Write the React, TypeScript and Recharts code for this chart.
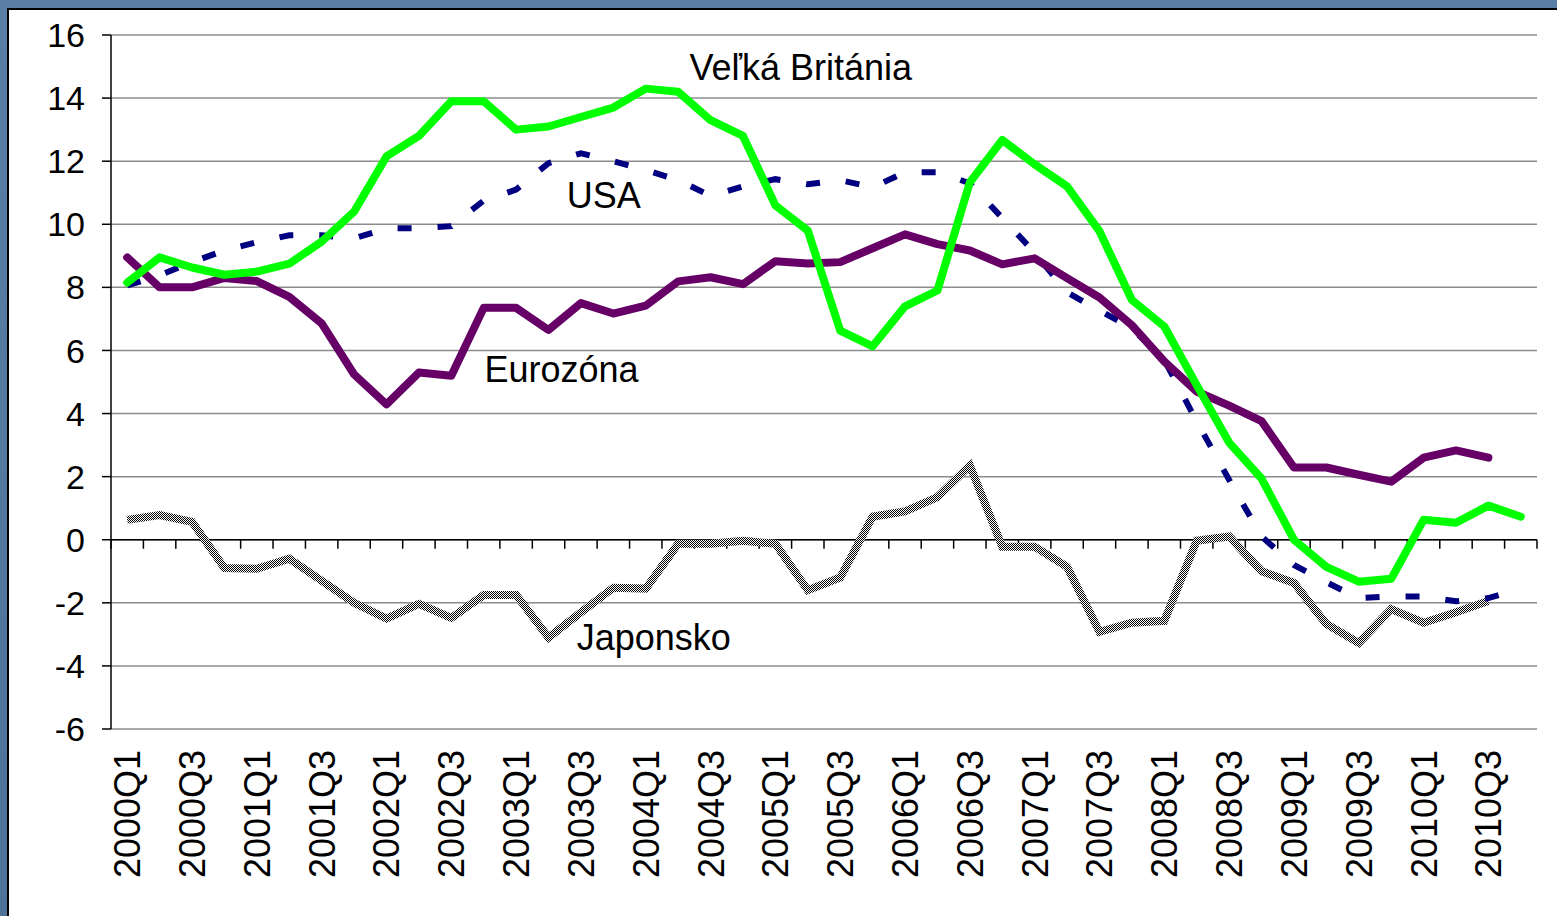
import React from 'react';
import { LineChart, Line, XAxis, YAxis, CartesianGrid, ReferenceLine, ReferenceDot } from 'recharts';

const quarters = [
  '2000Q1', '2000Q2', '2000Q3', '2000Q4',
  '2001Q1', '2001Q2', '2001Q3', '2001Q4',
  '2002Q1', '2002Q2', '2002Q3', '2002Q4',
  '2003Q1', '2003Q2', '2003Q3', '2003Q4',
  '2004Q1', '2004Q2', '2004Q3', '2004Q4',
  '2005Q1', '2005Q2', '2005Q3', '2005Q4',
  '2006Q1', '2006Q2', '2006Q3', '2006Q4',
  '2007Q1', '2007Q2', '2007Q3', '2007Q4',
  '2008Q1', '2008Q2', '2008Q3', '2008Q4',
  '2009Q1', '2009Q2', '2009Q3', '2009Q4',
  '2010Q1', '2010Q2', '2010Q3', '2010Q4',
];

const velkaBritania = [
  8.15, 8.95, 8.63, 8.4, 8.5, 8.75, 9.45, 10.4,
  12.15, 12.8, 13.9, 13.9, 13.0, 13.1, 13.4, 13.7,
  14.3, 14.2, 13.3, 12.8, 10.6, 9.8, 6.63, 6.13,
  7.4, 7.9, 11.33, 12.67, 11.9, 11.2, 9.78, 7.6,
  6.76, 4.9, 3.08, 1.94, 0.0, -0.86, -1.33, -1.24,
  0.63, 0.54, 1.08, 0.73,
];

const usa = [
  8.06, 8.38, 8.8, 9.17, 9.43, 9.65, 9.65, 9.55,
  9.87, 9.87, 9.94, 10.75, 11.1, 11.94, 12.25, 12.0,
  11.72, 11.4, 10.9, 11.2, 11.43, 11.27, 11.4, 11.17,
  11.65, 11.65, 11.3, 10.2, 9.1, 7.84, 7.27, 6.7,
  5.7, 3.75, 1.9, 0.1, -0.8, -1.35, -1.85, -1.8,
  -1.8, -1.95, -1.85, -1.55,
];

const eurozona = [
  8.95, 8.0, 8.0, 8.3, 8.2, 7.7, 6.86, 5.24,
  4.29, 5.3, 5.2, 7.35, 7.35, 6.65, 7.5, 7.17,
  7.42, 8.19, 8.32, 8.1, 8.83, 8.76, 8.8, 9.24,
  9.68, 9.37, 9.17, 8.73, 8.92, 8.29, 7.68, 6.8,
  5.65, 4.7, 4.25, 3.76, 2.29, 2.29, 2.06, 1.84,
  2.6, 2.83, 2.6, null,
];

const japonsko = [
  0.63, 0.78, 0.57, -0.9, -0.92, -0.6, -1.3, -2.0,
  -2.5, -2.03, -2.48, -1.75, -1.75, -3.1, -2.3, -1.52,
  -1.55, -0.13, -0.13, -0.03, -0.13, -1.6, -1.2, 0.73,
  0.9, 1.35, 2.35, -0.22, -0.22, -0.86, -2.92, -2.63,
  -2.57, -0.03, 0.1, -1.0, -1.37, -2.67, -3.27, -2.2,
  -2.63, -2.3, -1.94, null,
];

const yTicks = [-6, -4, -2, 0, 2, 4, 6, 8, 10, 12, 14, 16];

const annotationTexts = ['Veľká Británia', 'USA', 'Eurozóna', 'Japonsko'];
const annotationX = ['2005Q2', '2003Q4', '2003Q2', '2004Q1'];
const annotationY = [14.58, 10.52, 5.0, -3.5];

const data = quarters.map((q, i) => ({
  q,
  uk: velkaBritania[i],
  us: usa[i],
  ez: eurozona[i],
  jp: japonsko[i],
}));

const FONT = '"Liberation Sans", Arial, Helvetica, sans-serif';
const annotationDx = [-7, -9.5, 13, 8];

const XTick = (props: any) => {
  const { x, y, payload, index } = props;
  if (index % 2 !== 0) return null;
  return (
    <text
      x={x}
      y={y}
      transform={`rotate(-90, ${x}, ${y})`}
      textAnchor="end"
      dy="0.36em"
      fontSize={36}
      fontFamily={FONT}
      fill="#000"
    >
      {payload.value}
    </text>
  );
};

const AnnoLabel = (props: any) => {
  const { viewBox, text, dx } = props;
  if (!viewBox) return null;
  const cx = viewBox.x + (viewBox.width || 0) / 2;
  const cy = viewBox.y + (viewBox.height || 0) / 2;
  return (
    <text x={cx + dx} y={cy} textAnchor="middle" fontSize={36} fontFamily={FONT} fill="#000">
      {text}
    </text>
  );
};

const ZeroAxis = (props: any) => {
  const { x1, y1, x2, y2 } = props;
  const n = quarters.length;
  const step = (x2 - x1) / n;
  const marks = [];
  for (let k = 0; k <= n; k++) {
    const tx = x1 + k * step;
    marks.push(<line key={k} x1={tx} y1={y1} x2={tx} y2={y1 + 9} stroke="#000" strokeWidth={1.5} />);
  }
  return (
    <g>
      <line x1={x1} y1={y1} x2={x2} y2={y2} stroke="#000" strokeWidth={1.5} />
      {marks}
    </g>
  );
};

export default function App() {
  return (
    <div
      style={{
        position: 'absolute',
        left: 0,
        top: 0,
        width: 1557,
        height: 916,
        overflow: 'hidden',
        background: 'linear-gradient(180deg, #5a7ea6 0%, #4f7299 100%)',
      }}
    >
      <div
        style={{
          position: 'absolute',
          left: 7,
          top: 8,
          width: 1550,
          height: 908,
          background: '#fff',
          borderLeft: '2px solid #000',
          borderTop: '2px solid #000',
          boxSizing: 'border-box',
        }}
      />
      <div style={{ position: 'absolute', left: 0, top: 0 }}>
        <LineChart width={1557} height={916} data={data} margin={{ top: 35, right: 20, left: 0, bottom: 0 }}>
          <defs>
            <pattern id="jpHatch" width="2" height="2" patternUnits="userSpaceOnUse">
              <rect width="2" height="2" fill="#ffffff" />
              <rect x="0" y="0" width="1" height="1" fill="#000000" />
              <rect x="1" y="1" width="1" height="1" fill="#000000" />
            </pattern>
          </defs>
          <CartesianGrid vertical={false} stroke="#8c8c8c" strokeWidth={1.5} />
          <XAxis
            dataKey="q"
            scale="band"
            interval={0}
            height={187}
            axisLine={false}
            tickLine={false}
            tickSize={0}
            tickMargin={21}
            tick={<XTick />}
          />
          <YAxis
            width={111}
            domain={[-6, 16]}
            ticks={yTicks}
            interval={0}
            axisLine={{ stroke: '#000', strokeWidth: 1.5 }}
            tickLine={{ stroke: '#000', strokeWidth: 1.5 }}
            tickSize={9}
            tickMargin={17}
            tick={{ fontSize: 34, fill: '#000', fontFamily: FONT }}
          />
          <ReferenceLine y={0} shape={<ZeroAxis />} />
          <Line
            type="linear"
            dataKey="jp"
            stroke="url(#jpHatch)"
            strokeWidth={8}
            dot={false}
            activeDot={false}
            strokeLinejoin="miter"
            isAnimationActive={false}
          />
          <Line
            type="linear"
            dataKey="us"
            stroke="#000080"
            strokeWidth={6}
            strokeDasharray="14 26"
            dot={false}
            activeDot={false}
            isAnimationActive={false}
          />
          <Line
            type="linear"
            dataKey="ez"
            stroke="#660066"
            strokeWidth={8}
            strokeLinecap="round"
            strokeLinejoin="round"
            dot={false}
            activeDot={false}
            isAnimationActive={false}
          />
          <Line
            type="linear"
            dataKey="uk"
            stroke="#00ff00"
            strokeWidth={8}
            strokeLinecap="round"
            strokeLinejoin="round"
            dot={false}
            activeDot={false}
            isAnimationActive={false}
          />
          {annotationTexts.map((t, i) => (
            <ReferenceDot
              key={t}
              x={annotationX[i]}
              y={annotationY[i]}
              r={0}
              fill="none"
              stroke="none"
              label={<AnnoLabel text={t} dx={annotationDx[i]} />}
            />
          ))}
        </LineChart>
      </div>
    </div>
  );
}
